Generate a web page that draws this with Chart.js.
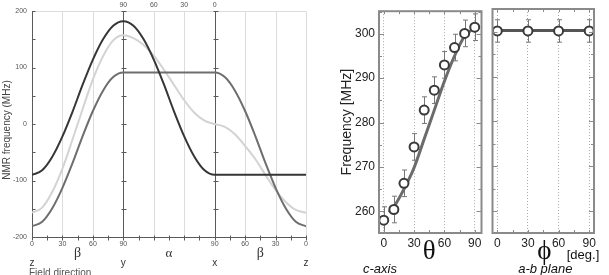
<!DOCTYPE html>
<html>
<head>
<meta charset="utf-8">
<script src="https://cdn.jsdelivr.net/npm/chart.js@4.4.0/dist/chart.umd.min.js"></script>
<style>
  html, body { margin: 0; padding: 0; background: #fff; }
  body { width: 609px; height: 275px; position: relative; overflow: hidden; }
  canvas { position: absolute; top: 0; }
  #nmrChart { left: 0; }
  #cAxisChart { left: 330px; }
  #abChart { left: 486px; }
</style>
</head>
<body>
<canvas id="nmrChart" width="320" height="275"></canvas>
<canvas id="cAxisChart" width="158" height="275"></canvas>
<canvas id="abChart" width="123" height="275"></canvas>
<script>
// --- left panel: NMR lines vs field direction (z -> y -> x -> z) ---
const sweepAngle = [0, 10, 20, 30, 40, 50, 60, 70, 80, 90, 100, 110, 120, 130, 140, 150, 160, 170, 180,
                    190, 200, 210, 220, 230, 240, 250, 260, 270];
const lineDark  = [-90, -82, -58, -22, 22, 70, 114, 150, 174, 182, 174, 150, 114, 70, 22, -22, -58, -82, -90,
                   -90, -90, -90, -90, -90, -90, -90, -90, -90];
const lineLight = [-157, -148, -120, -79, -27, 27, 79, 120, 148, 157, 152, 140, 121, 96, 69, 42, 20, 6, 0,
                   -5, -18, -39, -62, -90, -117, -138, -152, -157];
const lineMid   = [-181, -173, -149, -113, -69, -21, 23, 59, 83, 91, 91, 91, 91, 91, 91, 91, 91, 91, 91,
                   83, 59, 23, -21, -69, -113, -149, -173, -181];
const bottomTickValues = [0, 30, 60, 90, 180, 210, 240, 270];
const bottomTickLabels = ['0', '30', '60', '90', '90', '60', '30', '0'];
const topTickValues = [90, 120, 150, 180];
const topTickLabels = ['90', '60', '30', '0'];
const nmrTicks = [-200, -100, 0, 100, 200];

// --- right panel: measured frequency, c-axis and a-b plane rotations ---
const thetaAngle = [0, 10, 20, 30, 40, 50, 60, 70, 80, 90];
const cAxisFreq  = [258, 260.4, 266.3, 274.5, 282.8, 287.3, 293, 296.9, 300.1, 301.5];
const cAxisErr   = [3, 3, 3, 3, 3, 3, 3, 3, 3, 3];
const thetaFit   = [5, 10, 20, 30, 40, 50, 60, 70, 80, 90];
const cAxisFit   = [259.8, 261, 265, 269.8, 276.3, 282.8, 289.3, 295, 299.5, 301.3];
const phiAngle   = [0, 30, 60, 90];
const abFreq     = [300.2, 300.2, 300.2, 300.2];
const abErr      = [2.5, 2.5, 2.5, 2.5];
const phiFit     = [-5, 95];
const abFit      = [300.3, 300.3];
const angleTicks = [0, 30, 60, 90];
const mhzTicks   = [260, 270, 280, 290, 300];

const SANS = '"Liberation Sans", Arial, sans-serif';
const SERIF = '"Liberation Serif", "DejaVu Serif", serif';

function pts(xs, ys) {
    return xs.map((x, i) => ({ x: x, y: ys[i] }));
}

// frame, grid, axis lines and labels of the left panel
const nmrDecor = {
    id: 'nmrDecor',
    beforeDatasetsDraw(chart) {
        const { ctx, chartArea: a, scales: { x, y } } = chart;
        ctx.save();
        ctx.lineWidth = 1;
        // light grid
        ctx.strokeStyle = '#dcdcdc';
        [30, 60, 120, 150, 210, 240].forEach(v => {
            const px = Math.round(x.getPixelForValue(v)) + 0.5;
            ctx.beginPath(); ctx.moveTo(px, a.top); ctx.lineTo(px, a.bottom); ctx.stroke();
        });
        ctx.beginPath();
        ctx.moveTo(a.left, a.top + 0.5); ctx.lineTo(a.right + 0.5, a.top + 0.5);
        ctx.lineTo(a.right + 0.5, a.bottom);
        ctx.stroke();
        // dark axes
        ctx.strokeStyle = '#5a5a5a';
        [0, 90, 180].forEach(v => {
            const px = Math.round(x.getPixelForValue(v)) + 0.5;
            ctx.beginPath(); ctx.moveTo(px, a.top); ctx.lineTo(px, a.bottom); ctx.stroke();
            for (let f = -200; f <= 200; f += 50) {
                const py = Math.round(y.getPixelForValue(f)) + 0.5;
                ctx.beginPath();
                ctx.moveTo(v === 0 ? px : px - 2, py); ctx.lineTo(px + 3, py);
                ctx.stroke();
            }
        });
        const by = Math.round(a.bottom) + 0.5;
        ctx.beginPath(); ctx.moveTo(a.left, by); ctx.lineTo(a.right + 1, by); ctx.stroke();
        for (let v = 0; v <= 270; v += 15) {
            const px = Math.round(x.getPixelForValue(v)) + 0.5;
            ctx.beginPath(); ctx.moveTo(px, by - 2); ctx.lineTo(px, by + 3); ctx.stroke();
        }
        ctx.restore();
    },
    afterDraw(chart) {
        const { ctx, scales: { x } } = chart;
        ctx.save();
        ctx.fillStyle = '#333';
        ctx.textAlign = 'center';
        ctx.textBaseline = 'middle';
        ctx.font = '14px ' + SERIF;
        ctx.fillText('β', x.getPixelForValue(45), 253);
        ctx.fillText('β', x.getPixelForValue(225), 253);
        ctx.font = '13px ' + SERIF;
        ctx.fillText('α', x.getPixelForValue(135), 254);
        ctx.font = '10px ' + SANS;
        ctx.fillText('z', x.getPixelForValue(0), 263);
        ctx.fillText('y', x.getPixelForValue(90), 263);
        ctx.fillText('x', x.getPixelForValue(180), 263);
        ctx.fillText('z', x.getPixelForValue(270), 263);
        ctx.fillStyle = '#555';
        ctx.textAlign = 'left';
        ctx.fillText('Field direction', 29, 273);
        ctx.translate(7, 130);
        ctx.rotate(-Math.PI / 2);
        ctx.textAlign = 'center';
        ctx.fillStyle = '#444';
        ctx.fillText('NMR frequency (MHz)', 0, 0);
        ctx.restore();
    }
};

new Chart(document.getElementById('nmrChart'), {
    type: 'line',
    data: {
        datasets: [
            { data: pts(sweepAngle, lineDark), borderColor: '#363636' },
            { data: pts(sweepAngle, lineMid), borderColor: '#6e6e6e' },
            { data: pts(sweepAngle, lineLight), borderColor: '#d3d3d3' }
        ]
    },
    options: {
        responsive: false,
        animation: false,
        elements: {
            point: { radius: 0 },
            line: { borderWidth: 2, fill: false, cubicInterpolationMode: 'monotone' }
        },
        layout: { padding: { top: 0, right: 14, left: 0, bottom: 0 } },
        plugins: { legend: { display: false }, tooltip: { enabled: false } },
        scales: {
            x: {
                type: 'linear', position: 'bottom', min: 0, max: 270,
                afterBuildTicks: s => { s.ticks = bottomTickValues.map(v => ({ value: v })); },
                afterFit: s => { s.height = 38; },
                ticks: {
                    autoSkip: false, maxRotation: 0, padding: 3, color: '#555',
                    font: { size: 7, family: SANS },
                    callback: (v, i) => bottomTickLabels[i]
                },
                grid: { display: false, drawTicks: false },
                border: { display: false }
            },
            xTop: {
                type: 'linear', position: 'top', min: 0, max: 270,
                afterBuildTicks: s => { s.ticks = topTickValues.map(v => ({ value: v })); },
                afterFit: s => { s.height = 11; },
                ticks: {
                    autoSkip: false, maxRotation: 0, padding: 2, color: '#555',
                    font: { size: 7, family: SANS },
                    callback: (v, i) => topTickLabels[i]
                },
                grid: { display: false, drawTicks: false },
                border: { display: false }
            },
            y: {
                min: -200, max: 200,
                afterBuildTicks: s => { s.ticks = nmrTicks.map(v => ({ value: v })); },
                afterFit: s => { s.width = 32; },
                ticks: { padding: 5, color: '#555', font: { size: 7, family: SANS } },
                grid: { display: false, drawTicks: false },
                border: { display: false }
            }
        }
    },
    plugins: [nmrDecor]
});

// frame with inward ticks, error bars and labels for the two right plots
function framePlugin(xs, ys, errs, drawLabels) {
    return {
        id: 'frameDecor',
        beforeDatasetsDraw(chart) {
            const { ctx, scales: { x, y } } = chart;
            ctx.save();
            ctx.strokeStyle = '#777';
            ctx.lineWidth = 1;
            xs.forEach((v, i) => {
                const px = Math.round(x.getPixelForValue(v)) + 0.5;
                const top = y.getPixelForValue(ys[i] + errs[i]);
                const bot = y.getPixelForValue(ys[i] - errs[i]);
                ctx.beginPath();
                ctx.moveTo(px, top); ctx.lineTo(px, bot);
                ctx.moveTo(px - 2.5, top); ctx.lineTo(px + 2.5, top);
                ctx.moveTo(px - 2.5, bot); ctx.lineTo(px + 2.5, bot);
                ctx.stroke();
            });
            ctx.restore();
        },
        afterDraw(chart) {
            const { ctx, chartArea: a, scales: { x, y } } = chart;
            ctx.save();
            ctx.strokeStyle = '#8a8a8a';
            ctx.lineWidth = 1;
            for (let v = 0; v <= 90; v += 15) {
                const px = Math.round(x.getPixelForValue(v)) + 0.5;
                ctx.beginPath();
                ctx.moveTo(px, a.top); ctx.lineTo(px, a.top + 3);
                ctx.moveTo(px, a.bottom); ctx.lineTo(px, a.bottom - 3);
                ctx.stroke();
            }
            for (let f = 260; f <= 305; f += 5) {
                const py = Math.round(y.getPixelForValue(f)) + 0.5;
                const len = f % 10 === 0 ? 5 : 3;
                ctx.beginPath();
                ctx.moveTo(a.left, py); ctx.lineTo(a.left + len, py);
                ctx.moveTo(a.right, py); ctx.lineTo(a.right - len, py);
                ctx.stroke();
            }
            ctx.lineWidth = 2;
            ctx.strokeStyle = '#8a8a8a';
            ctx.strokeRect(a.left, a.top, a.right - a.left, a.bottom - a.top);
            drawLabels(ctx, x);
            ctx.restore();
        }
    };
}

function rightScales(xMin, xMax, showY) {
    return {
        x: {
            type: 'linear', min: xMin, max: xMax,
            afterBuildTicks: s => { s.ticks = angleTicks.map(v => ({ value: v })); },
            afterFit: s => { s.height = 42; },
            ticks: { autoSkip: false, maxRotation: 0, padding: 3, color: '#222', font: { size: 12, family: SANS } },
            grid: { drawTicks: false, color: '#aaa', lineWidth: 1 },
            border: { display: false, dash: [1, 2] }
        },
        y: {
            display: showY, min: 255.1, max: 305.1,
            afterBuildTicks: s => { s.ticks = mhzTicks.map(v => ({ value: v })); },
            afterFit: s => { s.width = showY ? 49 : 0; },
            ticks: { padding: 4, color: '#222', font: { size: 12, family: SANS } },
            grid: { display: false, drawTicks: false },
            border: { display: false },
            title: {
                display: true, text: 'Frequency [MHz]', color: '#222',
                font: { size: 14, family: SANS }, padding: { top: 9, bottom: 0 }
            }
        }
    };
}

const pointStyle = {
    showLine: false, pointRadius: 4.5, pointBorderWidth: 2,
    pointBorderColor: '#3a3a3a', pointBackgroundColor: '#fff'
};

new Chart(document.getElementById('cAxisChart'), {
    type: 'line',
    data: {
        datasets: [
            Object.assign({ data: pts(thetaAngle, cAxisFreq) }, pointStyle),
            { data: pts(thetaFit, cAxisFit), borderColor: '#6b6b6b', borderWidth: 3, pointRadius: 0, cubicInterpolationMode: 'monotone' }
        ]
    },
    options: {
        responsive: false,
        animation: false,
        layout: { padding: { top: 9, right: 2, left: 0, bottom: 0 } },
        plugins: { legend: { display: false }, tooltip: { enabled: false } },
        scales: rightScales(-4.7, 96.7, true)
    },
    plugins: [framePlugin(thetaAngle, cAxisFreq, cAxisErr, (ctx, x) => {
        ctx.fillStyle = '#111';
        ctx.textAlign = 'center';
        ctx.textBaseline = 'middle';
        ctx.font = '27px ' + SERIF;
        ctx.fillText('θ', x.getPixelForValue(45), 252);
        ctx.font = 'italic 13px ' + SANS;
        ctx.textAlign = 'left';
        ctx.fillText('c-axis', 33, 269);
    })]
});

new Chart(document.getElementById('abChart'), {
    type: 'line',
    data: {
        datasets: [
            Object.assign({ data: pts(phiAngle, abFreq) }, pointStyle),
            { data: pts(phiFit, abFit), borderColor: '#555', borderWidth: 3, pointRadius: 0 }
        ]
    },
    options: {
        responsive: false,
        animation: false,
        layout: { padding: { top: 9, right: 15, left: 2, bottom: 0 } },
        plugins: { legend: { display: false }, tooltip: { enabled: false } },
        scales: rightScales(-4.7, 94.7, false)
    },
    plugins: [framePlugin(phiAngle, abFreq, abErr, (ctx, x) => {
        ctx.fillStyle = '#111';
        ctx.textAlign = 'center';
        ctx.textBaseline = 'middle';
        ctx.font = '27px ' + SERIF;
        ctx.fillText('ϕ', x.getPixelForValue(46), 252);
        ctx.font = '13px ' + SANS;
        ctx.fillText('[deg.]', 97, 255);
        ctx.font = 'italic 13px ' + SANS;
        ctx.fillText('a-b plane', x.getPixelForValue(47), 269);
    })]
});
</script>
</body>
</html>
